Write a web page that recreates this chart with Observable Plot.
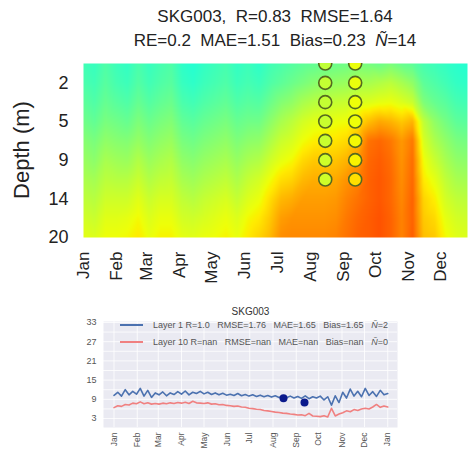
<!DOCTYPE html>
<html><head><meta charset="utf-8">
<script src="https://cdn.jsdelivr.net/npm/d3@7"></script>
<script src="https://cdn.jsdelivr.net/npm/@observablehq/plot@0.6"></script>
<style>
body{margin:0;background:#fff;font-family:"Liberation Sans",Arial,sans-serif;}
#wrap{position:relative;width:468px;height:453px;overflow:hidden;background:#fff;}
.abs{position:absolute;}
.title{left:0;width:550px;text-align:center;font-size:17px;color:#222;white-space:pre;line-height:20px;}
.ylab{left:22px;top:150px;transform:translate(-50%,-50%) rotate(-90deg);font-size:22px;color:#222;white-space:nowrap;}
.leg{left:120px;font-size:9px;color:#555;white-space:pre;line-height:12px;display:flex;align-items:center;}
.leg span.ln{display:inline-block;width:23px;height:2px;margin-right:10px;}
</style></head><body><div id="wrap"></div>
<script>
// ---------- data ----------
const months = ["Jan","Feb","Mar","Apr","May","Jun","Jul","Aug","Sep","Oct","Nov","Dec"];
const depthTickLayers = [2, 4, 6, 8, 10];
const depthLabels = ["2", "5", "9", "14", "20"];
const year = 2019;
// heatmap columns: 36 columns spread evenly from Jan 1 to Dec 26
const columnDays = d3.range(36).map(i => i * 359 / 35);
// modelled values per layer (layer 1 = surface, layer 10 = bottom), one per column
const layer1  = [10.5,10.7,10.2,10.6,10.8,10.3,10.7,10.4,10.2,10.9,11.1,10.8,10.6,10.4,10.8, 10.6,10.9,10.5,10.3,10.1,9.9,9.8,9.7,9.6,9.5,9.3, 9.4,9.6,9.3,9.7,9.9, 10.4,10.6,10.8,11.0,11.1];
const layer2  = [10.3,10.5,10.0,10.4,10.6,10.1,10.5,10.2,10.0,10.7,10.9,10.6,10.4,10.2,10.6, 10.4,10.6,10.2,9.9,9.6,9.3,9.0,8.8,8.7,8.6,8.3, 8.3,8.1,7.9,8.3,8.8, 9.9,10.2,10.5,10.8,10.9];
const layer3  = [9.9,10.2,9.7,10.0,10.2,9.7,10.1,9.8,9.6,10.3,10.5,10.2,10.0,9.8,10.2, 10.0,10.1,9.6,9.1,8.8,8.3,8.0,7.8,7.7,7.6,7.3, 7.2,7.0,6.9,7.2,7.6, 9.2,9.7,10.0,10.4,10.5];
const layer4  = [9.5,9.8,9.3,9.5,9.7,9.2,9.6,9.3,9.1,9.8,10.0,9.7,9.5,9.3,9.7, 9.5,9.5,8.9,8.3,7.9,7.4,7.1,7.0,6.9,6.8,6.3, 5.6,5.2,5.4,5.8,5.4, 7.8,8.8,9.4,9.9,10.0];
const layer5  = [9.0,9.3,8.8,9.0,9.1,8.7,9.1,8.8,8.6,9.3,9.5,9.2,9.0,8.8,9.2, 8.9,8.8,8.2,7.6,7.3,6.8,6.5,6.4,6.3,6.1,5.5, 4.2,4.0,4.3,4.9,4.3, 7.3,8.2,8.8,9.3,9.4];
const layer6  = [8.6,8.9,8.3,8.5,8.6,8.1,8.6,8.3,8.1,8.8,9.0,8.7,8.5,8.3,8.7, 8.3,8.1,7.5,7.0,6.7,6.1,5.8,5.8,5.7,5.4,4.9, 4.0,3.8,4.1,4.8,4.1, 6.8,7.6,8.3,8.8,8.9];
const layer7  = [8.2,8.4,7.9,8.0,8.0,7.6,8.1,7.8,7.7,8.3,8.5,8.2,8.0,7.8,8.2, 7.7,7.4,6.8,6.2,6.0,5.5,5.3,5.3,5.2,4.8,4.5, 3.9,3.7,4.0,4.7,4.0, 6.4,7.0,7.8,8.3,8.4];
const layer8  = [7.8,8.0,7.5,7.5,7.5,7.1,7.6,7.3,7.3,7.8,8.0,7.7,7.5,7.3,7.7, 7.2,6.9,6.2,5.5,5.3,5.0,5.0,5.0,4.9,4.5,4.2, 3.9,3.7,4.0,4.6,3.9, 6.0,6.5,7.4,7.8,7.9];
const layer9  = [7.4,7.6,7.1,7.1,7.0,6.7,7.2,6.9,6.9,7.4,7.5,7.3,7.1,6.9,7.2, 6.7,6.4,5.8,5.0,4.8,4.8,4.8,4.8,4.7,4.3,4.0, 3.8,3.6,3.9,4.5,3.9, 5.8,6.1,7.0,7.4,7.5];
const layer10 = [7.0,7.2,6.8,6.8,6.7,6.4,6.9,6.6,6.6,7.0,7.1,6.9,6.8,6.6,6.9, 6.4,6.0,5.5,4.7,4.6,4.6,4.6,4.6,4.5,4.2,3.9, 3.8,3.6,3.9,4.5,3.8, 5.6,5.8,6.7,7.1,7.2];
// observations (profiles) shown as circles
const obsDates = ["2019-08-15", "2019-09-12"];
const obsLayers = [1, 2, 3, 4, 5, 6, 7];
const obsAug = [7.8, 7.7, 7.7, 7.6, 7.6, 7.5, 7.5];
const obsSep = [6.9, 6.9, 6.8, 6.8, 6.7, 6.6, 6.2];
// bottom chart: time series every 5 days (day 0..365)
const seriesDays = d3.range(0, 366, 5);
const seriesLayer1 = [10.2,11.2,10.0,12.0,10.4,11.5,10.6, 12.4,10.0,11.8,9.6,11.0, 10.4,11.3,10.1,11.0,10.5,11.4, 10.6,11.6,10.4,11.2,10.8,11.5, 10.7,11.2,10.5,11.0,10.4,10.9,10.3, 10.6,10.2,10.8,10.1,10.5,10.0, 10.4,9.9,10.3,9.8,10.2,9.7, 10.1,9.6,10.0,9.5,10.0,9.4, 9.9,9.3,10.1,9.2,9.8,9.4, 10.0,8.8,9.8,7.2,10.1,8.0, 11.2,9.4,12.2,10.0,11.5,9.8, 12.4,10.2,11.4,9.9,11.8,10.4,10.8];
const seriesLayer10 = [6.4,7.0,6.8,7.4,7.2,7.8,7.6, 8.2,7.6,7.9,7.5,7.7, 7.5,7.8,7.6,7.9,7.7,8.0, 7.8,8.1,7.7,8.4,7.9,7.8, 7.7,7.9,7.5,7.6,7.3,7.4,7.1, 7.0,6.8,6.9,6.6,6.5,6.2, 6.1,5.9,5.8,5.5,5.4,5.2, 5.0,4.9,4.7,4.6,4.4,4.3, 4.1,4.2,3.9,4.6,3.8,3.7, 3.6,3.9,3.5,6.2,3.8,4.4, 4.8,5.4,5.1,5.8,5.5,6.0, 6.2,6.0,6.6,7.4,6.5,6.9,6.6];
const surfaceObs = [9.3, 8.0];
const yTicksBottom = [3, 9, 15, 21, 27, 33];

// ---------- helpers ----------
const day0 = Date.UTC(year, 0, 1);
const dayDate = d => new Date(day0 + d * 864e5);
function jet(t) {
  t = Math.max(0, Math.min(1, t));
  const seg = pts => { for (let i = 1; i < pts.length; i++) if (t <= pts[i][0]) { const [a, b] = pts[i-1], [c, e] = pts[i]; return b + (e - b) * (t - a) / (c - a); } return pts[pts.length-1][1]; };
  const r = seg([[0,0],[0.35,0],[0.66,1],[0.89,1],[1,0.5]]);
  const g = seg([[0,0],[0.125,0],[0.375,1],[0.64,1],[0.91,0],[1,0]]);
  const b = seg([[0,0.5],[0.11,1],[0.34,1],[0.65,0],[1,0]]);
  return `rgb(${Math.round(r*255)},${Math.round(g*255)},${Math.round(b*255)})`;
}
const layers = [layer1, layer2, layer3, layer4, layer5, layer6, layer7, layer8, layer9, layer10];
const grid = [];
layers.forEach((arr, k) => arr.forEach((v, i) => grid.push({date: dayDate(columnDays[i]), layer: k + 1, value: v})));
const obs = [];
[obsAug, obsSep].forEach((arr, j) => arr.forEach((v, i) => obs.push({date: new Date(obsDates[j]), layer: obsLayers[i], value: v})));
const ser1 = seriesDays.map((d, i) => ({date: dayDate(d), value: seriesLayer1[i]}));
const ser10 = seriesDays.map((d, i) => ({date: dayDate(d), value: seriesLayer10[i]}));
const surf = obsDates.map((d, i) => ({date: new Date(d), value: surfaceObs[i]}));
const monthStarts = d3.utcMonth.range(new Date(day0), new Date(Date.UTC(year, 11, 2)));
const monthStarts13 = d3.utcMonth.range(new Date(day0), new Date(Date.UTC(year + 1, 0, 2)));

const wrap = document.getElementById("wrap");

// ---------- top heatmap ----------
const topPlot = Plot.plot({
  width: 468, height: 300,
  marginTop: 63, marginBottom: 63, marginLeft: 83, marginRight: 1,
  style: {fontFamily: "Liberation Sans, Arial, sans-serif", color: "#222", background: "transparent"},
  x: {type: "utc", domain: [new Date(day0), new Date(Date.UTC(year, 11, 26))]},
  y: {domain: [1, 10], reverse: true},
  color: {type: "linear", domain: [0.5, 18], interpolate: t => jet(1 - t)},
  marks: [
    Plot.raster(grid, {x: "date", y: "layer", fill: "value", interpolate: "barycentric"}),
    Plot.dot(obs, {x: "date", y: "layer", fill: "value", r: 6.5, stroke: "#55691f", strokeWidth: 1.6, clip: true}),
    Plot.axisX({ticks: monthStarts, tickFormat: d => months[d.getUTCMonth()], tickRotate: -90, tickSize: 0, tickPadding: 14, fontSize: 17, label: null}),
    Plot.axisY({ticks: depthTickLayers, tickFormat: d => depthLabels[depthTickLayers.indexOf(d)], tickSize: 0, tickPadding: 15, fontSize: 18, label: null})
  ]
});
topPlot.style.position = "absolute"; topPlot.style.left = "0px"; topPlot.style.top = "0px";
wrap.appendChild(topPlot);

const t1 = document.createElement("div"); t1.className = "abs title"; t1.style.top = "7px";
t1.innerHTML = "SKG003,  R=0.83  RMSE=1.64";
const t2 = document.createElement("div"); t2.className = "abs title"; t2.style.top = "31px";
t2.innerHTML = "RE=0.2  MAE=1.51  Bias=0.23  <i>Ñ</i>=14";
const yl = document.createElement("div"); yl.className = "abs ylab"; yl.textContent = "Depth (m)";
wrap.appendChild(t1); wrap.appendChild(t2); wrap.appendChild(yl);

// ---------- bottom line chart ----------
const botPlot = Plot.plot({
  width: 468, height: 157,
  marginTop: 25, marginBottom: 26, marginLeft: 103, marginRight: 71,
  style: {fontFamily: "Liberation Sans, Arial, sans-serif", color: "#555", background: "transparent"},
  x: {type: "utc", domain: [new Date(Date.UTC(year - 1, 11, 18)), new Date(Date.UTC(year + 1, 0, 14))]},
  y: {domain: [0.2, 33.3]},
  marks: [
    Plot.frame({fill: "#eaeaf2", stroke: null}),
    Plot.gridY(d3.range(3, 34, 3), {stroke: "white", strokeOpacity: 1, strokeWidth: 0.8}),
    Plot.gridX(monthStarts13, {stroke: "white", strokeOpacity: 1, strokeWidth: 0.8}),
    Plot.line(ser10, {x: "date", y: "value", stroke: "#f08080", strokeWidth: 1.6}),
    Plot.line(ser1, {x: "date", y: "value", stroke: "#4c72b0", strokeWidth: 1.6}),
    Plot.dot(surf, {x: "date", y: "value", fill: "#0b1a8c", r: 4}),
    Plot.axisY({ticks: yTicksBottom, tickSize: 0, tickPadding: 7, fontSize: 9, label: null}),
    Plot.axisX({ticks: monthStarts13, tickFormat: d => months[d.getUTCMonth()], tickRotate: -90, tickSize: 0, tickPadding: 5, fontSize: 8.5, label: null}),
    Plot.text(["SKG003"], {frameAnchor: "top", dy: -14, fontSize: 10, fill: "#333"})
  ]
});
botPlot.style.position = "absolute"; botPlot.style.left = "0px"; botPlot.style.top = "296px";
wrap.appendChild(botPlot);

const legendRows = [
  {color: "#4c72b0", text: "Layer 1 R=1.0   RMSE=1.76   MAE=1.65   Bias=1.65   <i>Ñ</i>=2", top: 319},
  {color: "#f08080", text: "Layer 10 R=nan   RMSE=nan   MAE=nan   Bias=nan   <i>Ñ</i>=0", top: 336}
];
legendRows.forEach(r => {
  const d = document.createElement("div");
  d.className = "abs leg"; d.style.top = r.top + "px";
  d.innerHTML = `<span class="ln" style="background:${r.color}"></span>${r.text}`;
  wrap.appendChild(d);
});
</script></body></html>
